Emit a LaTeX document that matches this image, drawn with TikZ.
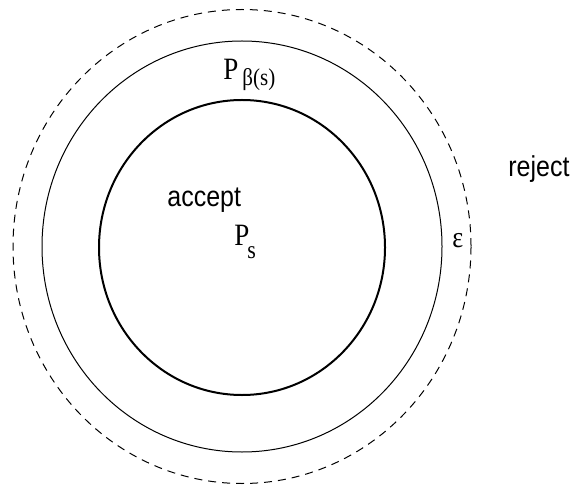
\documentclass[tikz,border=0pt]{standalone}
\usepackage{fontspec}
\usepackage{graphicx}
\setmainfont{Liberation Serif}
\newfontfamily\helv{Liberation Sans}
\usetikzlibrary{positioning,calc}
\newcommand{\tall}[1]{\scalebox{1}[1.15]{#1}}

\begin{document}
\begin{tikzpicture}[
    x=0.5pt, y=-0.5pt,
    region/.style={draw=black, line width=0.5pt},
    core/.style={draw=black, line width=1pt},
    margin/.style={draw=black, line width=0.5pt, dash pattern=on 4pt off 3pt},
    word/.style={inner sep=0pt, anchor=base west, font=\helv\fontsize{12.5}{15}\selectfont},
    sym/.style={inner sep=0pt, anchor=base west, font=\fontsize{13.5}{16}\selectfont}
]
    \useasboundingbox (0,0) rectangle (571,491);

    % the three regions
    \coordinate (c) at (242,246.5);
    \draw[margin] (c) ellipse [x radius=229, y radius=237];
    \draw[region] (c) ellipse [x radius=200, y radius=205.5];
    \draw[core] ($(c)+(0,1)$) ellipse [x radius=143, y radius=147.5];

    % labels
    \node[sym] (pbeta) at (223,80) {\tall{P\kern2pt\raisebox{-2.5pt}{\fontsize{10.5}{12}\selectfont β(s)}}};
    \node[word] (acc) at (167,207) {\tall{accept}};
    \node[sym] (ps) at (234,245) {\tall{P\kern-1pt\raisebox{-6pt}{\fontsize{11}{12}\selectfont s}}};
    \node[sym, font=\fontsize{13}{15}\selectfont] (eps) at (452,248) {\tall{ε}};
    \node[word] (rej) at (508,177) {\tall{reject}};
\end{tikzpicture}
\end{document}
